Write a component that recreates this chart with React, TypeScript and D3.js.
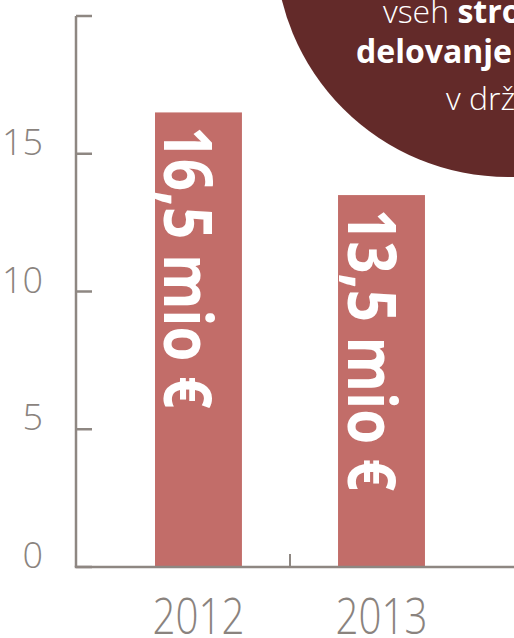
import React from "react";
import * as d3 from "d3";

const years = ["2012", "2013", "2014"];
const values = [16.5, 13.5, 12.7];
const yTicks = [0, 5, 10, 15, 20];
const yTickLabels = ["0", "5", "10", "15", ""];
const calloutLines = [
  [{ t: "vseh ", b: false }, { t: "stro", b: true }],
  [{ t: "delovanje", b: true }],
  [{ t: "v drž", b: false }],
];

const W = 514;
const H = 638;
const AXIS = "#8e8782";
const LABEL = "#8a837e";
const BAR = "#c26d69";
const CIRCLE = "#632a29";
const FONT = "'Open Sans', 'DejaVu Sans', sans-serif";

export default function App() {
  const y = d3.scaleLinear().domain([0, 20]).range([567, 16]);
  const x = d3
    .scaleBand<string>()
    .domain(years)
    .range([155, 608])
    .paddingInner(0.525)
    .paddingOuter(0);
  const bw = x.bandwidth();
  const step = x.step();
  const x0 = 76;
  const y0 = y(0);
  const betweenTick = (x(years[0]) as number) + bw + (step - bw) / 2;

  const lineX = [383, 356, 446];
  const lineY = [23, 63, 110];

  return (
    <svg
      width={W}
      height={H}
      style={{ position: "absolute", left: 0, top: 0, display: "block", background: "#fff" }}
      fontFamily={FONT}
    >
      {/* callout circle */}
      <circle cx={508} cy={-56} r={233} fill={CIRCLE} />
      {calloutLines.map((parts, i) => (
        <text key={i} x={lineX[i]} y={lineY[i]} fontSize={32} fill="#fff">
          {parts.map((p, j) => (
            <tspan key={j} fontWeight={p.b ? 700 : 300}>
              {p.t}
            </tspan>
          ))}
        </text>
      ))}

      {/* bars */}
      {years.map((yr, i) => {
        const bx = x(yr) as number;
        const by = y(values[i]);
        const label = `${String(values[i]).replace(".", ",")} mio €`;
        return (
          <g key={yr}>
            <rect x={bx} y={by} width={bw} height={y0 - by} fill={BAR} />
            <text
              transform={`translate(${bx + bw / 2 - 34},${by + 14}) rotate(90)`}
              fontSize={66}
              fontWeight={700}
              fill="#fff"
              textLength={282}
              lengthAdjust="spacingAndGlyphs"
            >
              {label}
            </text>
            <text
              x={bx + bw / 2}
              y={634}
              textAnchor="middle"
              fontSize={50}
              fontWeight={300}
              fill={LABEL}
              textLength={92}
              lengthAdjust="spacingAndGlyphs"
            >
              {yr}
            </text>
          </g>
        );
      })}

      {/* y axis */}
      <line x1={x0} x2={x0} y1={y(20)} y2={y0} stroke={AXIS} strokeWidth={2.5} />
      {yTicks.map((t, i) => (
        <g key={t}>
          <line x1={x0} x2={x0 + 16} y1={y(t)} y2={y(t)} stroke={AXIS} strokeWidth={2.5} />
          <text
            x={43}
            y={y(t) + 1}
            textAnchor="end"
            fontSize={36}
            fontWeight={300}
            fill={LABEL}
          >
            {yTickLabels[i]}
          </text>
        </g>
      ))}

      {/* x axis */}
      <line x1={x0 - 1.25} x2={W} y1={y0} y2={y0} stroke={AXIS} strokeWidth={2.5} />
      <line x1={betweenTick} x2={betweenTick} y1={y0} y2={y0 - 13} stroke={AXIS} strokeWidth={2} />
    </svg>
  );
}
